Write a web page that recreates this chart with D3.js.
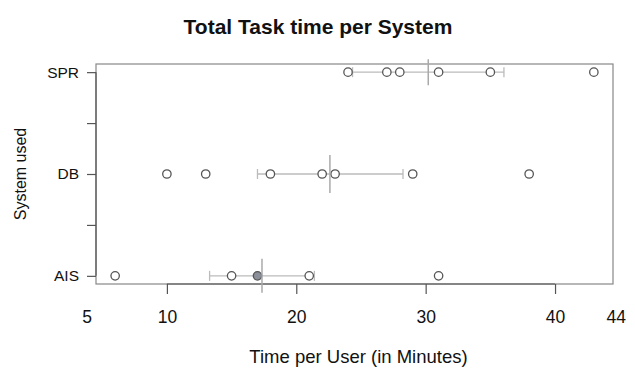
<!DOCTYPE html>
<html>
<head>
<meta charset="utf-8">
<script src="https://cdn.jsdelivr.net/npm/d3@7"></script>
<style>
  body { margin: 0; background: #fff; }
  text { font-family: "Liberation Sans", Arial, sans-serif; }
</style>
</head>
<body>
<script>
// values
const systems = ["AIS", "DB", "SPR"]
const aisTimes = [6, 15, 17, 21, 31]
const dbTimes = [10, 13, 18, 22, 23, 29, 38]
const sprTimes = [24, 27, 28, 31, 35, 43]
const groupMeans = [17.35, 22.6, 30.2]
const groupLower = [13.3, 17.0, 24.35]
const groupUpper = [21.4, 28.25, 36.05]
const highlighted = {system: "AIS", time: 17}
const xTicks = [10, 20, 30, 40]
const xLabels = ["5", "10", "20", "30", "40", "44"]
const xLabelAt = [3.8, 10, 20, 30, 40, 44.7]
const yTicks = [1, 1.5, 2, 2.5, 3]

const width = 635
const height = 373
const margin = {top: 64, right: 22, bottom: 89, left: 96}

const svg = d3.select('body').append('svg')
  .attr('width', width)
  .attr('height', height)

const points = [
  ...aisTimes.map(t => ({system: "AIS", time: t})),
  ...dbTimes.map(t => ({system: "DB", time: t})),
  ...sprTimes.map(t => ({system: "SPR", time: t}))
]

// R style 4% padding around data range
const xMin = d3.min(points, d => d.time), xMax = d3.max(points, d => d.time)
const xPad = (xMax - xMin) * 0.04
const xScale = d3.scaleLinear()
  .domain([xMin - xPad, xMax + xPad])
  .range([margin.left, width - margin.right])

const yScale = d3.scaleLinear()
  .domain([0.92, 3.08])
  .range([height - margin.bottom, margin.top])

const yOf = s => yScale(systems.indexOf(s) + 1)

// plot box
svg.append('rect')
  .attr('x', margin.left)
  .attr('y', margin.top)
  .attr('width', width - margin.left - margin.right)
  .attr('height', height - margin.top - margin.bottom)
  .attr('fill', 'none')
  .attr('stroke', '#888')
  .attr('stroke-width', 1.2)

// x axis ticks
const xAxisGroup = svg.append('g')
  .attr('transform', `translate(0,${height - margin.bottom})`)
  .call(d3.axisBottom(xScale).tickValues(xTicks).tickSize(10).tickSizeOuter(0).tickFormat(''))
xAxisGroup.select('.domain')
  .attr('d', `M${xScale(xTicks[0])},0H${xScale(xTicks[xTicks.length - 1])}`)
xAxisGroup.selectAll('path, line').attr('stroke', '#555').attr('stroke-width', 1.2)

// x tick labels (5 and 44 sit at the ends with no tick mark)
const xLabelGroup = svg.append('g')
  .attr('transform', `translate(0,${height - margin.bottom})`)
  .call(d3.axisBottom(xScale).tickValues(xLabelAt).tickSize(0).tickPadding(27)
    .tickFormat((d, i) => xLabels[i]))
xLabelGroup.select('.domain').remove()
xLabelGroup.selectAll('text')
  .attr('font-size', 17.5)
  .attr('fill', '#111')
  .style('font-family', '"Liberation Sans", Arial, sans-serif')

// y axis
const yAxisGroup = svg.append('g')
  .attr('transform', `translate(${margin.left},0)`)
  .call(d3.axisLeft(yScale).tickValues(yTicks).tickSize(9).tickSizeOuter(0)
    .tickPadding(8)
    .tickFormat(d => Number.isInteger(d) ? systems[d - 1] : ''))
yAxisGroup.select('.domain')
  .attr('d', `M0,${yScale(1)}V${yScale(3)}`)
yAxisGroup.selectAll('path, line').attr('stroke', '#555').attr('stroke-width', 1.2)
yAxisGroup.selectAll('text')
  .attr('font-size', 15.5)
  .attr('fill', '#111')
  .style('font-family', '"Liberation Sans", Arial, sans-serif')

// error bars: horizontal whisker with end caps
const bars = systems.map((s, i) => ({system: s, mean: groupMeans[i], lo: groupLower[i], hi: groupUpper[i]}))
const meanHalf = {AIS: 17, DB: 19, SPR: 13}

const barGroup = svg.append('g')
barGroup.selectAll('line.whisker')
  .data(bars)
  .join('line')
  .attr('class', 'whisker')
  .attr('x1', d => xScale(d.lo))
  .attr('x2', d => xScale(d.hi))
  .attr('y1', d => yOf(d.system))
  .attr('y2', d => yOf(d.system))
  .attr('stroke', '#bbb')
  .attr('stroke-width', 1.3)
barGroup.selectAll('line.cap')
  .data(bars.flatMap(d => [{system: d.system, v: d.lo}, {system: d.system, v: d.hi}]))
  .join('line')
  .attr('class', 'cap')
  .attr('x1', d => xScale(d.v))
  .attr('x2', d => xScale(d.v))
  .attr('y1', d => yOf(d.system) - 5)
  .attr('y2', d => yOf(d.system) + 5)
  .attr('stroke', '#bbb')
  .attr('stroke-width', 1.3)

// points
svg.append('g').selectAll('circle')
  .data(points)
  .join('circle')
  .attr('cx', d => xScale(d.time))
  .attr('cy', d => yOf(d.system))
  .attr('r', 4.2)
  .attr('fill', d => d.system === highlighted.system && d.time === highlighted.time ? '#8a8f99' : '#fff')
  .attr('stroke', '#555')
  .attr('stroke-width', 1.3)

// mean lines
svg.append('g').selectAll('line')
  .data(bars)
  .join('line')
  .attr('x1', d => xScale(d.mean))
  .attr('x2', d => xScale(d.mean))
  .attr('y1', d => yOf(d.system) - meanHalf[d.system])
  .attr('y2', d => yOf(d.system) + meanHalf[d.system])
  .attr('stroke', '#aaa')
  .attr('stroke-width', 1.5)

// titles
svg.append('text')
  .attr('x', 318)
  .attr('y', 34)
  .attr('text-anchor', 'middle')
  .attr('font-size', 21)
  .attr('font-weight', 'bold')
  .attr('fill', '#111')
  .text('Total Task time per System')

svg.append('text')
  .attr('x', (xScale.range()[0] + xScale.range()[1]) / 2 + 4)
  .attr('y', 363)
  .attr('text-anchor', 'middle')
  .attr('font-size', 18.5)
  .attr('fill', '#111')
  .text('Time per User (in Minutes)')

svg.append('text')
  .attr('transform', `translate(26,${(yScale.range()[0] + yScale.range()[1]) / 2}) rotate(-90)`)
  .attr('text-anchor', 'middle')
  .attr('font-size', 16)
  .attr('fill', '#111')
  .text('System used')
</script>
</body>
</html>
